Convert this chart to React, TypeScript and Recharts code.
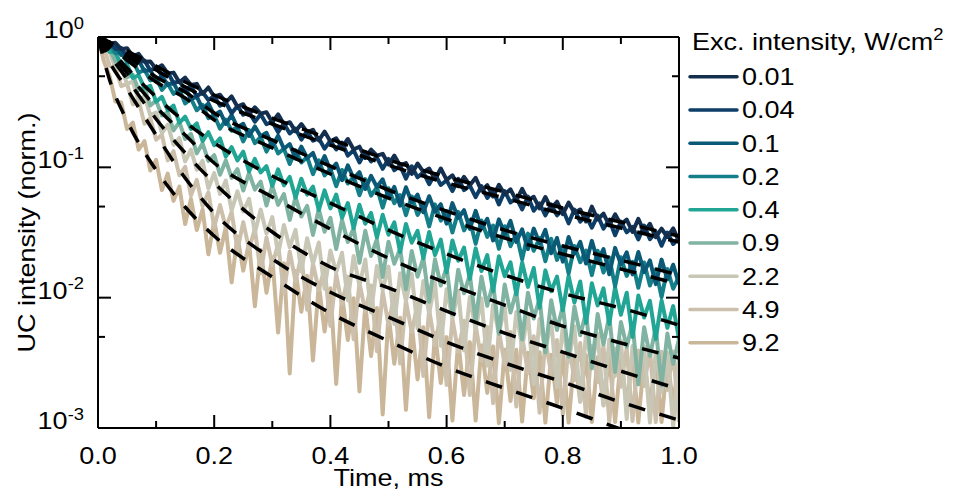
import React from 'react';
import { LineChart, Line, XAxis, YAxis, Legend } from 'recharts';

// sampling times of the measured decays, ms
const time = [
  0, 0.01, 0.02, 0.03, 0.04, 0.05, 0.06, 0.07, 0.08, 0.09,
  0.1, 0.11, 0.12, 0.13, 0.14, 0.15, 0.16, 0.17, 0.18, 0.19,
  0.2, 0.21, 0.22, 0.23, 0.24, 0.25, 0.26, 0.27, 0.28, 0.29,
  0.3, 0.31, 0.32, 0.33, 0.34, 0.35, 0.36, 0.37, 0.38, 0.39,
  0.4, 0.41, 0.42, 0.43, 0.44, 0.45, 0.46, 0.47, 0.48, 0.49,
  0.5, 0.51, 0.52, 0.53, 0.54, 0.55, 0.56, 0.57, 0.58, 0.59,
  0.6, 0.61, 0.62, 0.63, 0.64, 0.65, 0.66, 0.67, 0.68, 0.69,
  0.7, 0.71, 0.72, 0.73, 0.74, 0.75, 0.76, 0.77, 0.78, 0.79,
  0.8, 0.81, 0.82, 0.83, 0.84, 0.85, 0.86, 0.87, 0.88, 0.89,
  0.9, 0.91, 0.92, 0.93, 0.94, 0.95, 0.96, 0.97, 0.98, 0.99,
  1.0,
];

// normalised UC intensity, one array per excitation intensity
const i001 = [
  1.0, 0.976, 0.888, 0.903, 0.807, 0.82, 0.71, 0.742, 0.646, 0.65,
  0.569, 0.607, 0.526, 0.533, 0.45, 0.488, 0.428, 0.437, 0.366, 0.41,
  0.348, 0.361, 0.315, 0.35, 0.292, 0.305, 0.256, 0.289, 0.258, 0.265,
  0.222, 0.255, 0.214, 0.222, 0.189, 0.215, 0.186, 0.194, 0.161, 0.188,
  0.158, 0.167, 0.142, 0.165, 0.137, 0.144, 0.118, 0.137, 0.123, 0.127,
  0.105, 0.123, 0.103, 0.108, 0.089, 0.107, 0.0922, 0.0979, 0.081, 0.0979,
  0.0801, 0.0869, 0.0717, 0.0844, 0.0729, 0.0832, 0.0662, 0.073, 0.0597, 0.0735,
  0.062, 0.0678, 0.0556, 0.0683, 0.056, 0.0594, 0.0484, 0.0592, 0.0483, 0.0545,
  0.0438, 0.0537, 0.0449, 0.0475, 0.0384, 0.0499, 0.0398, 0.0442, 0.0359, 0.0436,
  0.0365, 0.0397, 0.0319, 0.0402, 0.032, 0.0369, 0.0291, 0.0338, 0.0292, 0.034,
  0.027,
];
const i004 = [
  1.0, 0.929, 0.911, 0.808, 0.825, 0.703, 0.727, 0.638, 0.66, 0.553,
  0.586, 0.505, 0.536, 0.444, 0.457, 0.396, 0.421, 0.351, 0.377, 0.329,
  0.352, 0.297, 0.314, 0.26, 0.296, 0.253, 0.265, 0.224, 0.255, 0.214,
  0.224, 0.186, 0.217, 0.182, 0.198, 0.163, 0.19, 0.16, 0.167, 0.139,
  0.16, 0.137, 0.155, 0.123, 0.135, 0.109, 0.131, 0.111, 0.119, 0.0974,
  0.116, 0.095, 0.103, 0.082, 0.102, 0.0838, 0.0915, 0.0742, 0.0889, 0.0732,
  0.0796, 0.0657, 0.0817, 0.0669, 0.0724, 0.0591, 0.0718, 0.0582, 0.0665, 0.0519,
  0.0657, 0.0537, 0.0583, 0.0476, 0.0597, 0.0464, 0.0529, 0.0428, 0.0519, 0.0428,
  0.0477, 0.0372, 0.0475, 0.0383, 0.0425, 0.0344, 0.0426, 0.0339, 0.0395, 0.0301,
  0.0383, 0.0317, 0.0349, 0.028, 0.0357, 0.0281, 0.032, 0.025, 0.0316, 0.0258,
  0.0288,
];
const i01 = [
  1.0, 0.959, 0.849, 0.861, 0.727, 0.744, 0.624, 0.659, 0.548, 0.557,
  0.458, 0.504, 0.43, 0.445, 0.366, 0.412, 0.333, 0.349, 0.281, 0.309,
  0.251, 0.268, 0.215, 0.252, 0.203, 0.216, 0.174, 0.206, 0.173, 0.184,
  0.146, 0.175, 0.139, 0.151, 0.117, 0.144, 0.118, 0.129, 0.0986, 0.122,
  0.0949, 0.107, 0.0797, 0.1035, 0.082, 0.0919, 0.0682, 0.0859, 0.0706, 0.081,
  0.059, 0.0708, 0.0508, 0.0703, 0.0539, 0.0617, 0.0452, 0.06, 0.0456, 0.0521,
  0.037, 0.0531, 0.0409, 0.0469, 0.0337, 0.0464, 0.0338, 0.0403, 0.0275, 0.0399,
  0.0307, 0.0388, 0.0268, 0.0334, 0.0236, 0.0339, 0.0262, 0.0331, 0.0219, 0.0287,
  0.0189, 0.0292, 0.0218, 0.0268, 0.0183, 0.0273, 0.0191, 0.0236, 0.0151, 0.0241,
  0.018, 0.0223, 0.0151, 0.0224, 0.0157, 0.0193, 0.0127, 0.0196, 0.0138, 0.0179,
  0.0127,
];
const i02 = [
  1.0, 0.897, 0.887, 0.751, 0.769, 0.639, 0.66, 0.531, 0.561, 0.465,
  0.488, 0.393, 0.44, 0.366, 0.396, 0.309, 0.337, 0.274, 0.302, 0.238,
  0.252, 0.198, 0.232, 0.191, 0.204, 0.158, 0.193, 0.153, 0.171, 0.132,
  0.161, 0.128, 0.139, 0.106, 0.135, 0.109, 0.12, 0.0887, 0.113, 0.0867,
  0.0978, 0.0716, 0.0955, 0.0751, 0.0848, 0.0611, 0.0813, 0.0607, 0.0702, 0.0491,
  0.0691, 0.0531, 0.0613, 0.0429, 0.0598, 0.0431, 0.0517, 0.0352, 0.052, 0.039,
  0.0461, 0.0317, 0.0455, 0.0328, 0.0393, 0.0259, 0.0391, 0.0293, 0.0358, 0.0237,
  0.0353, 0.0248, 0.0309, 0.0197, 0.031, 0.0229, 0.0286, 0.019, 0.0283, 0.0195,
  0.0248, 0.0153, 0.0249, 0.0187, 0.023, 0.0149, 0.0229, 0.0156, 0.0203, 0.0122,
  0.0204, 0.0147, 0.0188, 0.0119, 0.0186, 0.0124, 0.0164, 0.0101, 0.0166, 0.0117,
  0.0146,
];
const i04 = [
  1.0, 0.908, 0.769, 0.763, 0.606, 0.618, 0.485, 0.509, 0.405, 0.422,
  0.319, 0.347, 0.274, 0.298, 0.219, 0.245, 0.197, 0.217, 0.159, 0.186,
  0.148, 0.167, 0.121, 0.143, 0.113, 0.132, 0.0929, 0.116, 0.0914, 0.102,
  0.072, 0.0965, 0.0727, 0.0844, 0.0585, 0.0818, 0.0617, 0.0711, 0.047, 0.0666,
  0.0484, 0.0619, 0.041, 0.0532, 0.0341, 0.0516, 0.0369, 0.0447, 0.029, 0.0433,
  0.0304, 0.0379, 0.0224, 0.0368, 0.0264, 0.0326, 0.02, 0.0319, 0.0212, 0.0279,
  0.0156, 0.0275, 0.0192, 0.0242, 0.0139, 0.0239, 0.016, 0.0212, 0.0112, 0.0208,
  0.0146, 0.0187, 0.0106, 0.0186, 0.0121, 0.0169, 0.00836, 0.0162, 0.0112, 0.0145,
  0.00799, 0.0147, 0.00918, 0.0133, 0.00639, 0.0129, 0.00872, 0.0118, 0.00629, 0.012,
  0.0074, 0.0109, 0.005, 0.0104, 0.00704, 0.00944, 0.00483, 0.00951, 0.00587, 0.00862,
  0.0048,
];
const i09 = [
  1.0, 0.854, 0.82, 0.649, 0.649, 0.493, 0.512, 0.391, 0.406, 0.298,
  0.325, 0.25, 0.264, 0.192, 0.222, 0.165, 0.181, 0.128, 0.153, 0.112,
  0.124, 0.0877, 0.113, 0.083, 0.0969, 0.0664, 0.0905, 0.0675, 0.0776, 0.051,
  0.0722, 0.0515, 0.0624, 0.0395, 0.059, 0.0419, 0.0506, 0.0303, 0.0479, 0.032,
  0.041, 0.0236, 0.0394, 0.0268, 0.034, 0.0185, 0.0326, 0.0209, 0.0281, 0.0144,
  0.0269, 0.0182, 0.0237, 0.0116, 0.0228, 0.0145, 0.0202, 0.00932, 0.0197, 0.0124,
  0.0172, 0.00744, 0.0164, 0.0108, 0.015, 0.0066, 0.0145, 0.00867, 0.0129, 0.00528,
  0.0126, 0.00769, 0.0112, 0.00478, 0.0109, 0.00692, 0.00981, 0.00379, 0.00957, 0.00565,
  0.00859, 0.00352, 0.00855, 0.00515, 0.00773, 0.00287, 0.00749, 0.00438, 0.00725, 0.00269,
  0.00651, 0.0042, 0.00639, 0.00216, 0.00594, 0.00358, 0.00586, 0.00213, 0.0053, 0.00311,
  0.00482,
];
const i22 = [
  1.0, 0.816, 0.771, 0.577, 0.583, 0.438, 0.454, 0.323, 0.351, 0.251,
  0.263, 0.183, 0.213, 0.149, 0.168, 0.111, 0.137, 0.0957, 0.112, 0.069,
  0.0902, 0.0626, 0.079, 0.0468, 0.0654, 0.0458, 0.0573, 0.0315, 0.0474, 0.031,
  0.0415, 0.0216, 0.0361, 0.0244, 0.0331, 0.0159, 0.0286, 0.0182, 0.0265, 0.0117,
  0.023, 0.0156, 0.0221, 0.00955, 0.0209, 0.0124, 0.0196, 0.00771, 0.0175, 0.0115,
  0.0173, 0.00627, 0.0154, 0.00945, 0.0152, 0.00581, 0.0134, 0.00759, 0.013, 0.00428,
  0.0116, 0.00698, 0.0113, 0.00393, 0.0101, 0.00572, 0.00988, 0.00301, 0.00884, 0.00528,
  0.00856, 0.00279, 0.00775, 0.00416, 0.00758, 0.00217, 0.00686, 0.00389, 0.00675, 0.00205,
  0.00604, 0.00321, 0.006, 0.00159, 0.00534, 0.00304, 0.0053, 0.00151, 0.00476, 0.00251,
  0.0047, 0.00117, 0.00425, 0.00231, 0.00422, 0.0011, 0.00382, 0.00188, 0.00377, 0.00103,
  0.00328,
];
const i49 = [
  1.0, 0.824, 0.604, 0.583, 0.419, 0.439, 0.305, 0.325, 0.216, 0.239,
  0.163, 0.178, 0.113, 0.133, 0.0869, 0.101, 0.0608, 0.0802, 0.0503, 0.0643,
  0.0348, 0.0514, 0.0345, 0.0455, 0.0232, 0.038, 0.0236, 0.0336, 0.0154, 0.029,
  0.0178, 0.0258, 0.0109, 0.0226, 0.0133, 0.021, 0.00806, 0.0183, 0.0114, 0.017,
  0.00605, 0.0151, 0.00889, 0.0145, 0.0048, 0.013, 0.00787, 0.0124, 0.00388, 0.0111,
  0.00618, 0.0106, 0.00312, 0.00947, 0.00542, 0.00901, 0.00251, 0.00809, 0.0043, 0.00765,
  0.00214, 0.00691, 0.00383, 0.00666, 0.00179, 0.00616, 0.00328, 0.00597, 0.00155, 0.00554,
  0.00306, 0.00546, 0.00146, 0.00508, 0.00264, 0.00505, 0.00131, 0.00473, 0.0026, 0.00473,
  0.00127, 0.00447, 0.00233, 0.00449, 0.00122, 0.00425, 0.00225, 0.00429, 0.00111, 0.00407,
  0.00207, 0.00413, 0.00113, 0.00394, 0.0021, 0.00403, 0.00111, 0.00385, 0.00196, 0.00384,
  0.00111,
];
const i92 = [
  1.0, 0.653, 0.501, 0.32, 0.314, 0.197, 0.22, 0.137, 0.159, 0.0946,
  0.114, 0.067, 0.0895, 0.0553, 0.0711, 0.0367, 0.0573, 0.0331, 0.0475, 0.0215,
  0.0392, 0.0221, 0.0347, 0.0131, 0.0295, 0.0161, 0.0265, 0.00859, 0.0232, 0.0109,
  0.0204, 0.0054, 0.0184, 0.00262, 0.016, 0.0078, 0.0147, 0.0033, 0.0127, 0.00549,
  0.0118, 0.00218, 0.0105, 0.00473, 0.00989, 0.00191, 0.00879, 0.00356, 0.00833, 0.00127,
  0.00744, 0.00311, 0.007, 0.00138, 0.00627, 0.00236, 0.00593, 0.00121, 0.00533, 0.00221,
  0.00498, 0.00114, 0.00467, 0.00179, 0.00456, 0.00114, 0.0043, 0.00186, 0.00423, 0.00109,
  0.00398, 0.00161, 0.00398, 0.00112, 0.00378, 0.00169, 0.00381, 0.0011, 0.00365, 0.00154,
  0.00371, 0.0011, 0.00356, 0.0016, 0.00362, 0.00111, 0.00349, 0.00149, 0.00359, 0.00111,
  0.00345, 0.00152, 0.00353, 0.0011, 0.00342, 0.00146, 0.00352, 0.00111, 0.0034, 0.0015,
  0.00342,
];

// fitted decays (black dashed)
const fitTime = [0, 0.02, 0.05, 0.1, 0.15, 0.2, 0.3, 0.4, 0.5, 0.6, 0.7, 0.8, 0.9, 1.0];
const fit001 = [1, 0.915, 0.781, 0.599, 0.452, 0.359, 0.239, 0.165, 0.114, 0.0843, 0.0646, 0.0487, 0.038, 0.0297];
const fit004 = [1, 0.884, 0.74, 0.558, 0.413, 0.323, 0.215, 0.148, 0.104, 0.0758, 0.0581, 0.0438, 0.0342, 0.0267];
const fit01 = [1, 0.884, 0.715, 0.493, 0.378, 0.261, 0.162, 0.102, 0.067, 0.0462, 0.033, 0.0249, 0.0194, 0.0149];
const fit02 = [1, 0.853, 0.666, 0.452, 0.34, 0.231, 0.141, 0.0889, 0.0581, 0.0401, 0.0287, 0.0216, 0.0166, 0.0127];
const fit04 = [1, 0.809, 0.578, 0.347, 0.223, 0.154, 0.0857, 0.0532, 0.033, 0.0216, 0.0149, 0.0108, 0.00832, 0.00616];
const fit09 = [1, 0.781, 0.53, 0.29, 0.177, 0.108, 0.0592, 0.0336, 0.0201, 0.0129, 0.00877, 0.00605, 0.00449, 0.00344];
const fit22 = [1, 0.727, 0.476, 0.235, 0.129, 0.0758, 0.0319, 0.0172, 0.0119, 0.00789, 0.00535, 0.00382, 0.00273, 0.00199];
const fit49 = [1, 0.643, 0.399, 0.177, 0.0828, 0.0446, 0.0198, 0.011, 0.0071, 0.00456, 0.00315, 0.00225, 0.00158, 0.00115];
const fit92 = [1, 0.468, 0.227, 0.0954, 0.0496, 0.0297, 0.0144, 0.00762, 0.00465, 0.00293, 0.00202, 0.00142, 0.00098, 0.00069];

const intensities = ['0.01', '0.04', '0.1', '0.2', '0.4', '0.9', '2.2', '4.9', '9.2'];
const colors = ['#142e4e', '#0d3e67', '#0a5976', '#157f89', '#21a595', '#80b3a1', '#c8c6b4', '#ccc0ac', '#cab699'];

const xTicks = [0, 0.1, 0.2, 0.3, 0.4, 0.5, 0.6, 0.7, 0.8, 0.9, 1.0];
const yTicks = [0.001, 0.005, 0.01, 0.05, 0.1, 0.5, 1];

const series = [i001, i004, i01, i02, i04, i09, i22, i49, i92];
const fits = [fit001, fit004, fit01, fit02, fit04, fit09, fit22, fit49, fit92];

const rows = time.map((t, k) => {
  const r: any = { t };
  series.forEach((s, j) => { r['s' + j] = s[k]; });
  return r;
});
const fitRows = fitTime.map((t, k) => {
  const r: any = { t };
  fits.forEach((s, j) => { r['f' + j] = s[k]; });
  return r;
});

const FONT = '"Liberation Sans", Arial, Helvetica, sans-serif';
const FS = 23.5;
const SX = 1.15; // the original type is a bit wider than Arial
const INK = '#000';

const isDecade = (v: number) => Math.abs(Math.log10(v) - Math.round(Math.log10(v))) < 1e-6;
const isEvenTenth = (v: number) => Math.round(v * 10) % 2 === 0;

const BottomTick = ({ x, y, payload }: any) => {
  const major = isEvenTenth(payload.value);
  return (
    <g>
      <line x1={x} y1={y} x2={x} y2={y - (major ? 13 : 7)} stroke={INK} strokeWidth={2} />
      {major && (
        <text transform={`translate(${x},${y + 36}) scale(${SX},1)`} textAnchor="middle"
          fontSize={FS} fontFamily={FONT} fill={INK}>
          {payload.value.toFixed(1)}
        </text>
      )}
    </g>
  );
};

const TopTick = ({ x, y, payload }: any) => {
  const major = isEvenTenth(payload.value);
  return <line x1={x} y1={y} x2={x} y2={y + (major ? 13 : 7)} stroke={INK} strokeWidth={2} />;
};

const LeftTick = ({ x, y, payload }: any) => {
  const major = isDecade(payload.value);
  const exp = Math.round(Math.log10(payload.value));
  return (
    <g>
      <line x1={x} y1={y} x2={x + (major ? 13 : 7)} y2={y} stroke={INK} strokeWidth={2} />
      {major && (
        <text transform={`translate(${x - 14},${y + 1}) scale(${SX},1)`} textAnchor="end"
          fontSize={FS} fontFamily={FONT} fill={INK}>
          10<tspan dy={-9.5} fontSize={16}>{exp}</tspan>
        </text>
      )}
    </g>
  );
};

const RightTick = ({ x, y, payload }: any) => {
  const major = isDecade(payload.value);
  return <line x1={x} y1={y} x2={x - (major ? 13 : 7)} y2={y} stroke={INK} strokeWidth={2} />;
};

const XTitle = (p: any) => {
  const { x, y, width } = p.viewBox;
  return (
    <text transform={`translate(${x + width / 2},${y + 58}) scale(${SX},1)`} textAnchor="middle"
      fontSize={FS} fontFamily={FONT} fill={INK}>
      Time, ms
    </text>
  );
};

const YTitle = (p: any) => {
  const { y, height } = p.viewBox;
  return (
    <text transform={`translate(35,${y + height / 2}) rotate(-90) scale(${SX},1)`} textAnchor="middle"
      fontSize={FS} fontFamily={FONT} fill={INK}>
      UC intensity (norm.)
    </text>
  );
};

const LegendBox = () => (
  <svg width={953} height={501} style={{ position: 'absolute', left: 0, top: 0 }}>
    <text transform={`translate(692,50) scale(${SX},1)`} fontSize={FS} fontFamily={FONT} fill={INK}>
      Exc. intensity, W/cm<tspan dy={-10} fontSize={16}>2</tspan>
    </text>
    {intensities.map((lab, j) => {
      const cy = 76.7 + j * 33.25;
      return (
        <g key={lab}>
          <line x1={690} x2={737} y1={cy} y2={cy} stroke={colors[j]} strokeWidth={3.5} strokeLinecap="round" />
          <text transform={`translate(742,${cy + 8.3}) scale(${SX},1)`} fontSize={FS} fontFamily={FONT} fill={INK}>
            {lab}
          </text>
        </g>
      );
    })}
  </svg>
);

const axisLine = { stroke: INK, strokeWidth: 2 };

export default function App() {
  const order = [8, 7, 6, 5, 4, 3, 2, 1, 0];
  return (
    <div style={{ position: 'absolute', left: 0, top: 0, width: 953, height: 501, background: '#fff' }}>
      <LineChart width={953} height={501} data={rows} margin={{ top: 36, right: 273, bottom: 0, left: 0 }}>
        <XAxis dataKey="t" type="number" domain={[0, 1]} ticks={xTicks} interval={0} allowDataOverflow
          height={73} tickSize={0} tickMargin={0} tickLine={false} axisLine={axisLine} tick={<BottomTick />}
          label={{ value: 'Time, ms', content: XTitle }} />
        <XAxis xAxisId="top" orientation="top" dataKey="t" type="number" domain={[0, 1]} ticks={xTicks}
          interval={0} allowDataOverflow height={1} tickSize={0} tickMargin={0} tickLine={false}
          axisLine={axisLine} tick={<TopTick />} />
        <YAxis scale="log" type="number" domain={[0.001, 1]} ticks={yTicks} interval={0} allowDataOverflow
          width={98} tickSize={0} tickMargin={0} tickLine={false} axisLine={axisLine} tick={<LeftTick />}
          label={{ value: 'UC intensity (norm.)', content: YTitle }} />
        <YAxis yAxisId="right" orientation="right" scale="log" type="number" domain={[0.001, 1]} ticks={yTicks}
          interval={0} allowDataOverflow width={1} tickSize={0} tickMargin={0} tickLine={false}
          axisLine={axisLine} tick={<RightTick />} />
        {order.map((j) => (
          <Line key={'s' + j} dataKey={'s' + j} name={intensities[j]} stroke={colors[j]} strokeWidth={4}
            strokeLinejoin="round" dot={false} activeDot={false} type="linear" isAnimationActive={false} />
        ))}
        {fits.map((_, j) => (
          <Line key={'f' + j} data={fitRows} dataKey={'f' + j} stroke="#000" strokeWidth={3.5}
            strokeDasharray="17 15" dot={false} activeDot={false} type="monotone" legendType="none"
            isAnimationActive={false} />
        ))}
        <Legend layout="horizontal" verticalAlign="middle" align="center"
          wrapperStyle={{ position: 'absolute', left: 0, top: 0, width: 953, height: 501, pointerEvents: 'none' }}
          content={() => <LegendBox />} />
      </LineChart>
    </div>
  );
}
